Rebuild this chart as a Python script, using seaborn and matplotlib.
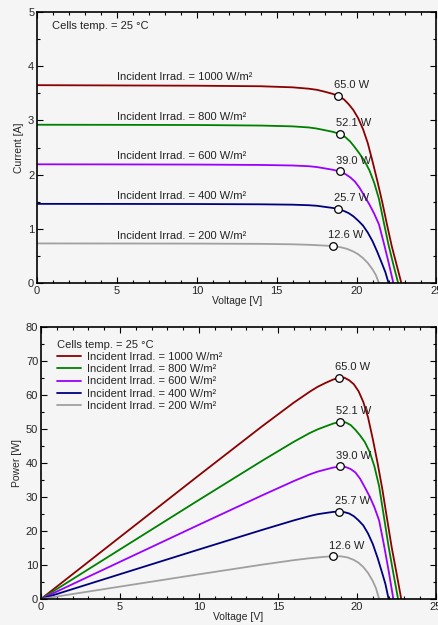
import numpy as np
import pandas as pd
import matplotlib
matplotlib.use("Agg")
import matplotlib.pyplot as plt
from matplotlib.ticker import MultipleLocator
import seaborn as sns

# ---------------- data ----------------
irradiance = [1000, 800, 600, 400, 200]
colors = ["#8b0000", "#008000", "#9900ff", "#00007f", "#a0a0a0"]

v_1000 = [0, 5, 10, 14, 16, 17, 17.5, 18, 18.5, 18.85, 19.2, 19.5, 19.8, 20.1, 20.4, 20.7, 21.0, 21.3, 21.6, 21.9, 22.2, 22.5, 22.8]
i_1000 = [3.65, 3.645, 3.64, 3.63, 3.61, 3.585, 3.565, 3.53, 3.49, 3.45, 3.39, 3.30, 3.19, 3.04, 2.84, 2.58, 2.24, 1.88, 1.50, 1.08, 0.68, 0.34, 0.0]

v_800 = [0, 5, 10, 14, 16, 17, 17.5, 18, 18.5, 18.95, 19.3, 19.6, 19.9, 20.2, 20.5, 20.8, 21.1, 21.4, 21.7, 22.0, 22.3, 22.6]
i_800 = [2.92, 2.918, 2.915, 2.905, 2.89, 2.87, 2.85, 2.82, 2.79, 2.75, 2.69, 2.61, 2.50, 2.38, 2.25, 2.08, 1.85, 1.55, 1.12, 0.70, 0.34, 0.0]

v_600 = [0, 5, 10, 14, 16, 17, 17.5, 18, 18.5, 18.95, 19.3, 19.6, 19.9, 20.2, 20.5, 20.8, 21.1, 21.4, 21.7, 22.0, 22.3]
i_600 = [2.19, 2.188, 2.185, 2.178, 2.168, 2.155, 2.14, 2.115, 2.09, 2.058, 2.01, 1.95, 1.87, 1.75, 1.60, 1.45, 1.28, 1.08, 0.74, 0.38, 0.0]

v_400 = [0, 5, 10, 14, 16, 17, 17.5, 18, 18.5, 18.85, 19.2, 19.5, 19.8, 20.1, 20.4, 20.7, 21.0, 21.3, 21.6, 21.8, 22.0]
i_400 = [1.46, 1.459, 1.457, 1.452, 1.445, 1.435, 1.425, 1.405, 1.385, 1.363, 1.33, 1.29, 1.23, 1.15, 1.06, 0.93, 0.77, 0.57, 0.35, 0.20, 0.0]

v_200 = [0, 5, 10, 14, 16, 17, 17.5, 18, 18.5, 19.0, 19.4, 19.8, 20.1, 20.4, 20.7, 21.0, 21.2, 21.4]
i_200 = [0.73, 0.729, 0.727, 0.722, 0.714, 0.705, 0.698, 0.69, 0.681, 0.66, 0.63, 0.58, 0.53, 0.46, 0.37, 0.25, 0.15, 0.0]

mpp_voltage = [18.85, 18.95, 18.95, 18.85, 18.5]
mpp_power = [65.0, 52.1, 39.0, 25.7, 12.6]
mpp_labels = ["65.0 W", "52.1 W", "39.0 W", "25.7 W", "12.6 W"]

temp_label = "Cells temp. = 25 °C"
x_ticks = [0, 5, 10, 15, 20, 25]
i_ticks = [0, 1, 2, 3, 4, 5]
p_ticks = [0, 10, 20, 30, 40, 50, 60, 70, 80]

# ---------------- build table ----------------
volts = [v_1000, v_800, v_600, v_400, v_200]
amps = [i_1000, i_800, i_600, i_400, i_200]
labels = [f"Incident Irrad. = {g} W/m²" for g in irradiance]
rows = []
for lab, vv, ii in zip(labels, volts, amps):
    for k, (v, i) in enumerate(zip(vv, ii)):
        rows.append({"label": lab, "V": v, "I": i, "P": v * i, "order": k})
df = pd.DataFrame(rows)
mpp = pd.DataFrame({"label": labels, "V": mpp_voltage, "P": mpp_power,
                    "I": [p / v for p, v in zip(mpp_power, mpp_voltage)],
                    "text": mpp_labels})

# ---------------- style ----------------
sns.set_style("ticks")
bg = "#f5f5f5"
plt.rcParams["font.family"] = ["Liberation Sans", "DejaVu Sans"]
plt.rcParams["axes.facecolor"] = bg
plt.rcParams["figure.facecolor"] = bg

FS = 8
fig = plt.figure(figsize=(4.39, 6.25), dpi=100)
ax1 = fig.add_axes([37 / 439, 1 - 283 / 625, 399.5 / 439, 271 / 625])
ax2 = fig.add_axes([41 / 439, 1 - 599 / 625, 395 / 439, 272 / 625])

pal = dict(zip(labels, colors))

sns.lineplot(data=df, x="V", y="I", hue="label", palette=pal, sort=False,
             estimator=None, units="label", linewidth=1.3, legend=False, ax=ax1)
sns.lineplot(data=df, x="V", y="P", hue="label", palette=pal, sort=False,
             estimator=None, linewidth=1.3, legend=True, ax=ax2)

for ax, ycol in ((ax1, "I"), (ax2, "P")):
    sns.scatterplot(data=mpp, x="V", y=ycol, color="white", edgecolor="black",
                    linewidth=0.9, s=30, zorder=5, legend=False, ax=ax)
    for _, r in mpp.iterrows():
        ax.annotate(r["text"], (r["V"], r[ycol]), xytext=(-3, 5.5),
                    textcoords="offset points", ha="left", va="baseline",
                    fontsize=FS, color="#222222")

# irradiance labels on I-V chart
for lab, ii in zip(labels, amps):
    ax1.text(5.0, ii[0] + 0.09, lab, fontsize=FS, ha="left", va="baseline",
             color="#222222")
ax1.text(0.0375, 0.948, temp_label, transform=ax1.transAxes, fontsize=FS,
         ha="left", va="center", color="#222222")

# axes formatting
ax1.set_xlim(0, 25)
ax1.set_ylim(0, 5)
ax1.set_xticks(x_ticks)
ax1.set_yticks(i_ticks)
ax1.yaxis.set_minor_locator(MultipleLocator(0.5))
ax1.set_xlabel("Voltage [V]", fontsize=7.5, labelpad=0)
ax1.set_ylabel("Current [A]", fontsize=7.5, labelpad=3)

ax2.set_xlim(0, 25)
ax2.set_ylim(0, 80)
ax2.set_xticks(x_ticks)
ax2.set_yticks(p_ticks)
ax2.yaxis.set_minor_locator(MultipleLocator(5))
ax2.set_xlabel("Voltage [V]", fontsize=7.5, labelpad=0)
ax2.set_ylabel("Power [W]", fontsize=7.5, labelpad=3)

for ax in (ax1, ax2):
    ax.xaxis.set_minor_locator(MultipleLocator(1))
    ax.tick_params(which="both", direction="in", top=True, right=True,
                   labelsize=FS, pad=2, width=0.8, color="black")
    ax.tick_params(which="major", length=4)
    ax.tick_params(which="minor", length=2)
    for s in ax.spines.values():
        s.set_linewidth(1.2)
        s.set_color("black")
        s.set_visible(True)

leg = ax2.legend(loc="upper left", bbox_to_anchor=(0.04, 0.953), frameon=False,
                 title=temp_label, fontsize=FS, title_fontsize=FS,
                 handlelength=2.15, handletextpad=0.55, labelspacing=0.2,
                 borderaxespad=0.0, borderpad=0.0)
leg._legend_box.align = "left"
for h in leg.get_lines():
    h.set_linewidth(1.3)

fig.savefig("out.png", dpi=100, facecolor=bg)
